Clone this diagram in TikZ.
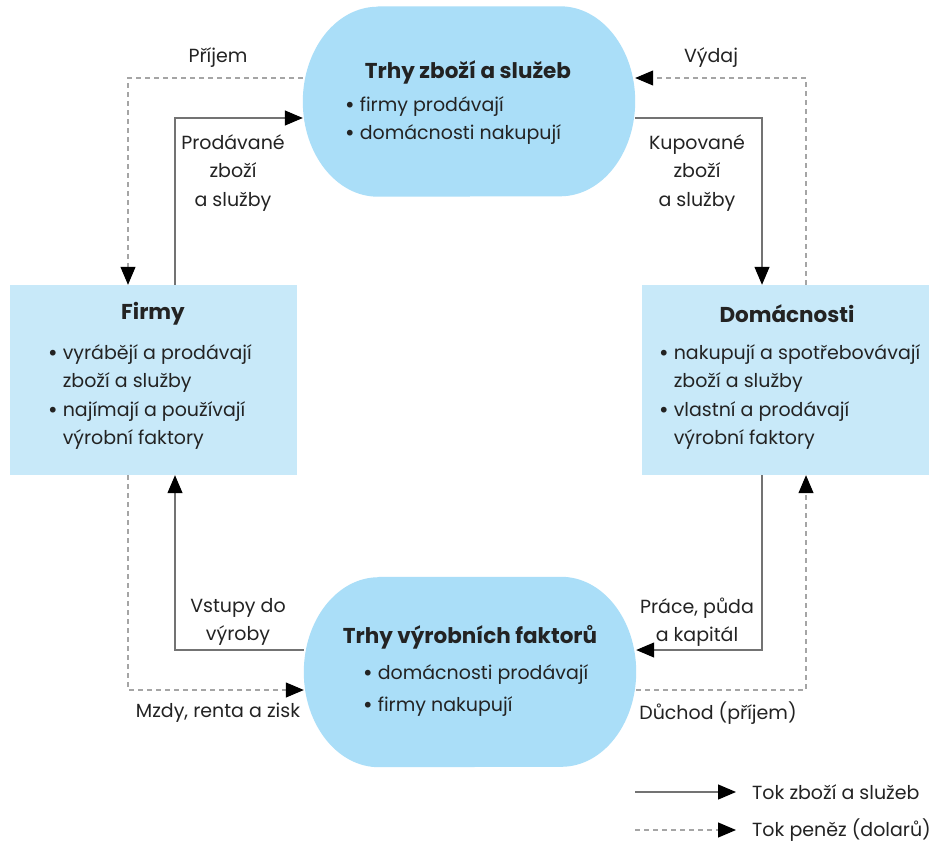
\documentclass[tikz,border=0pt]{standalone}
\usepackage{fontspec}
\setmainfont{Poppins}
\usetikzlibrary{arrows.meta,backgrounds}
\definecolor{ellfill}{RGB}{170,222,248}
\definecolor{boxfill}{RGB}{200,233,249}
\definecolor{txt}{RGB}{35,35,35}
\definecolor{solidc}{RGB}{115,115,115}
\definecolor{dashc}{RGB}{165,165,165}
\newcommand{\bul}{{\bfseries •}}
\begin{document}
\begin{tikzpicture}[x=1pt,y=-1pt,
  every node/.style={text=txt,font=\fontsize{19}{28.5}\selectfont},
  mkt/.style={draw=none,rectangle,minimum width=332pt,minimum height=190pt},
  agent/.style={draw=none,fill=boxfill,rectangle,minimum width=287pt,minimum height=190pt},
  title/.style={font=\fontsize{21.5}{28}\selectfont\bfseries},
  bl/.style={align=left,inner sep=0pt},
  lbl/.style={align=center,inner sep=0pt},
  tip/.style={-{Triangle[length=18pt,width=15pt,color=black]}},
  goods/.style={tip,draw=solidc,line width=1.2pt},
  money/.style={tip,draw=dashc,line width=1.1pt,dash pattern=on 5pt off 4pt}
]
\useasboundingbox (0,0) rectangle (931,843);

% shapes
\node[mkt] (trhyZ) at (469,101.5) {};
\node[mkt] (trhyV) at (470,672) {};
\node[agent] (firmy) at (153,380) {};
\node[agent] (domac) at (785,380) {};

% coordinates for routes
\coordinate (xL) at (175,0);
\coordinate (xLd) at (128,0);
\coordinate (xR) at (762,0);
\coordinate (xRd) at (806,0);
\coordinate (yT) at (0,118);
\coordinate (yTd) at (0,78);
\coordinate (yB) at (0,650);
\coordinate (yBd) at (0,690);

% texts in shapes
\node[title] (tZ) at (468,72) {Trhy zboží a služeb};
\node[bl,anchor=north west] (bZ) at (345,96) {\bul\ firmy prodávají\\\bul\ domácnosti nakupují};
\node[title] (tV) at (470,637) {Trhy výrobních faktorů};
\node[bl,anchor=north west,font=\fontsize{19}{32}\selectfont] (bV) at (363,664) {\bul\ domácnosti prodávají\\\bul\ firmy nakupují};
\node[title] (tF) at (153,314) {Firmy};
\node[bl,anchor=north west] (bF) at (48,344) {\bul\ vyrábějí a prodávají\\\hphantom{\bul\ }zboží a služby\\\bul\ najímají a používají\\\hphantom{\bul\ }výrobní faktory};
\node[title] (tD) at (787,314) {Domácnosti};
\node[bl,anchor=north west] (bD) at (659,344) {\bul\ nakupují a spotřebovávají\\\hphantom{\bul\ }zboží a služby\\\bul\ vlastní a prodávají\\\hphantom{\bul\ }výrobní faktory};

% connector labels
\node[lbl] (lPrij) at (218,58) {Příjem};
\node[lbl] (lVyd) at (711,58) {Výdaj};
\node[lbl] (lProd) at (233,173) {Prodávané\\zboží\\a služby};
\node[lbl] (lKup) at (697,173) {Kupované\\zboží\\a služby};
\node[lbl] (lVst) at (238,622) {Vstupy do\\výroby};
\node[lbl] (lPrace) at (697,622) {Práce, půda\\a kapitál};
\node[lbl] (lMzdy) at (218,713) {Mzdy, renta a zisk};
\node[lbl] (lDuch) at (718,713) {Důchod (příjem)};

% legend
\node[anchor=west,inner sep=0pt] (leg1) at (752,792) {Tok zboží a služeb};
\node[anchor=west,inner sep=0pt] (leg2) at (752,830) {Tok peněz (dolarů)};
\coordinate (lg1) at (635,792);
\coordinate (lg2) at (635,830);

\begin{pgfonlayer}{background}
\fill[white] (0,0) rectangle (931,843);
% market shapes (rounded with elliptical ends)
\foreach \m in {trhyZ,trhyV}{
  \fill[ellfill] ([xshift=75pt]\m.north west) -- ([xshift=-75pt]\m.north east)
    arc[start angle=-90,end angle=90,x radius=75,y radius=95]
    -- ([xshift=75pt]\m.south west)
    arc[start angle=90,end angle=270,x radius=75,y radius=95] -- cycle;
}
% goods (solid)
\draw[goods] (firmy.north -| xL) |- (trhyZ.west |- yT);
\draw[goods] (trhyZ.east |- yT) -| (domac.north -| xR);
\draw[goods] (domac.south -| xR) |- (trhyV.east |- yB);
\draw[goods] (trhyV.west |- yB) -| (firmy.south -| xL);
% money (dashed)
\draw[money] (trhyZ.west |- yTd) -| (firmy.north -| xLd);
\draw[money] (domac.north -| xRd) |- (trhyZ.east |- yTd);
\draw[money] (firmy.south -| xLd) |- (trhyV.west |- yBd);
\draw[money] (trhyV.east |- yBd) -| (domac.south -| xRd);
% legend lines
\draw[goods] (lg1) -- ([xshift=-16pt]leg1.west);
\draw[money] (lg2) -- ([xshift=-16pt]leg2.west);
\end{pgfonlayer}
\end{tikzpicture}
\end{document}
